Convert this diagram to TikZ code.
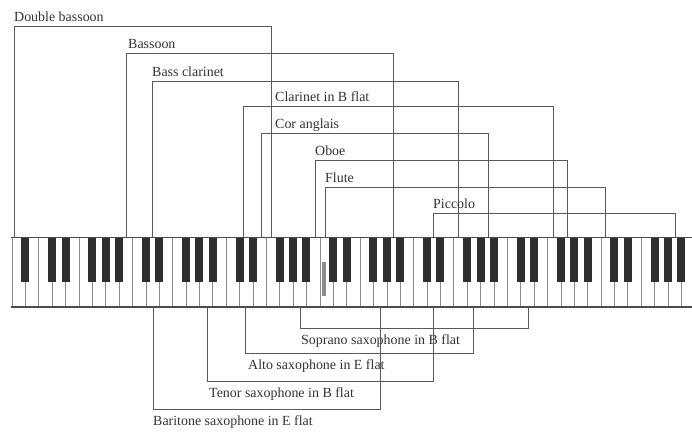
\documentclass[tikz,border=0pt]{standalone}
\usepackage{fontspec}
\setmainfont{Liberation Serif}
\begin{document}
\begin{tikzpicture}[x=1bp,y=-1bp,
  lbl/.style={anchor=base west, inner sep=0pt, font=\fontsize{14}{16}\selectfont, text=black!80},
  brk/.style={draw=black!65, line width=0.8bp},
  wkey/.style={draw=black!45, line width=0.6bp},
  bkey/.style={fill=black!82, draw=none}]
\useasboundingbox (0,0) rectangle (692,431);
\fill[white] (0,0) rectangle (692,431);
% keyboard
\coordinate (kbtop) at (0,237);
\coordinate (kbbot) at (0,307);
\begin{scope}
\clip (0,0) rectangle (692,431);
\foreach \i in {1,...,51}
  \draw[wkey] ({12+\i*13.386},237) -- ({12+\i*13.386},307);
\draw[wkey] (12,237) -- (12,307);
\foreach \i in {0,...,50}{
  \pgfmathtruncatemacro\nn{mod(\i+5,7)}
  \ifnum\nn=2\relax\else\ifnum\nn=6\relax\else
    \fill[bkey] ({12+(\i+1)*13.386-4},237) rectangle ({12+(\i+1)*13.386+4},282);
  \fi\fi
}
\draw[black!70, line width=0.9bp] (11,237) -- (700,237);
\draw[black!70, line width=1.3bp] (11,307) -- (700,307);
\end{scope}
\fill[black!45] (321.5,262) rectangle (325.5,296);
% upper brackets
\foreach \nm/\lx/\rx/\ly/\tx/\txt in {
  db/14/271/26/14/Double bassoon,
  bn/126/393/53/128/Bassoon,
  bcl/152/458/81/152/Bass clarinet,
  cl/243/553/106/275/Clarinet in B flat,
  ca/261/488/133/275/Cor anglais,
  ob/315/567/160/315/Oboe,
  fl/325/605/187/325/Flute,
  pc/433/675/213/433/Piccolo}{
  \coordinate (\nm-L) at (\lx,\ly);
  \coordinate (\nm-R) at (\rx,\ly);
  \draw[brk] (\nm-L |- kbtop) -- (\nm-L) -- (\nm-R) -- (\nm-R |- kbtop);
  \node[lbl] (\nm-T) at (\tx,\ly-5) {\txt};
}
% lower brackets
\foreach \nm/\lx/\rx/\ly/\tx/\txt in {
  sop/300/528/328/301/Soprano saxophone in B flat,
  alt/245/473/353/248/Alto saxophone in E flat,
  ten/207/433/381/209/Tenor saxophone in B flat,
  bar/153/380/409/153/Baritone saxophone in E flat}{
  \coordinate (\nm-L) at (\lx,\ly);
  \coordinate (\nm-R) at (\rx,\ly);
  \draw[brk] (\nm-L |- kbbot) -- (\nm-L) -- (\nm-R) -- (\nm-R |- kbbot);
  \node[lbl] (\nm-T) at (\tx,\ly+16) {\txt};
}
\end{tikzpicture}
\end{document}
